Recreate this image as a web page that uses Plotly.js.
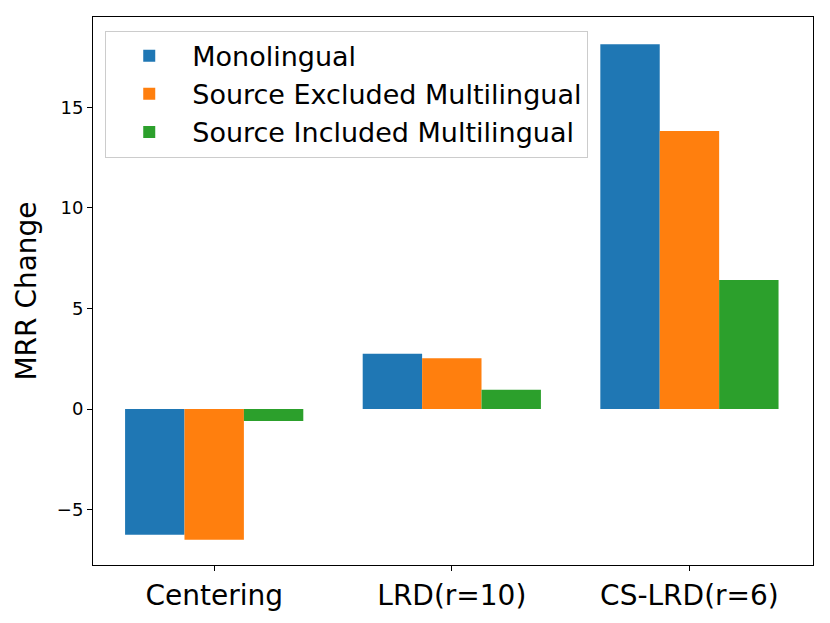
<!DOCTYPE html>
<html>
<head>
<meta charset="utf-8">
<script src="https://cdn.plot.ly/plotly-3.0.1.min.js"></script>
<style>
  body { margin: 0; background: #fff; }
  #chart { width: 830px; height: 623px; }
</style>
</head>
<body>
<div id="chart"></div>
<script>
var methods = ['Centering', 'LRD(r=10)', 'CS-LRD(r=6)'];
var monolingual = [-6.25, 2.75, 18.15];
var srcExcluded = [-6.5, 2.52, 13.83];
var srcIncluded = [-0.6, 0.96, 6.42];

function series(name, values, color) {
  return {
    type: 'bar',
    name: name,
    x: methods,
    y: values,
    marker: {color: color, line: {width: 0}},
    hoverinfo: 'y'
  };
}

var data = [
  series('Monolingual', monolingual, '#1f77b4'),
  series('Source Excluded Multilingual', srcExcluded, '#ff7f0e'),
  series('Source Included Multilingual', srcIncluded, '#2ca02c')
];

var layout = {
  width: 830,
  height: 623,
  margin: {l: 93, r: 17, t: 17, b: 58},
  paper_bgcolor: '#fff',
  plot_bgcolor: '#fff',
  barmode: 'group',
  bargap: 0.25,
  bargroupgap: 0,
  font: {family: 'DejaVu Sans', color: '#000'},
  xaxis: {
    range: [-0.51, 2.52],
    showline: true, mirror: true, linecolor: '#000', linewidth: 1,
    ticks: 'outside', ticklen: 5, tickcolor: '#000',
    showgrid: false, zeroline: false,
    tickfont: {family: 'DejaVu Sans', size: 28, color: '#000'}
  },
  yaxis: {
    range: [-7.76, 19.5],
    tickvals: [-5, 0, 5, 10, 15],
    ticktext: ['\u22125', '0', '5', '10', '15'],
    showline: true, mirror: true, linecolor: '#000', linewidth: 1,
    ticks: 'outside', ticklen: 5, tickcolor: '#000',
    showgrid: false, zeroline: false,
    tickfont: {family: 'DejaVu Sans', size: 18, color: '#000'},
    title: {text: 'MRR Change', font: {family: 'DejaVu Sans', size: 28, color: '#000'}, standoff: 12}
  },
  showlegend: true,
  legend: {
    x: 0.017, y: 0.975, xanchor: 'left', yanchor: 'top',
    bgcolor: 'rgba(255,255,255,0.8)',
    bordercolor: '#ccc', borderwidth: 1,
    font: {family: 'DejaVu Sans', size: 27, color: '#000'},
    itemwidth: 76,
    traceorder: 'normal',
    tracegroupgap: 0
  }
};

Plotly.newPlot('chart', data, layout, {displayModeBar: false});
</script>
</body>
</html>
